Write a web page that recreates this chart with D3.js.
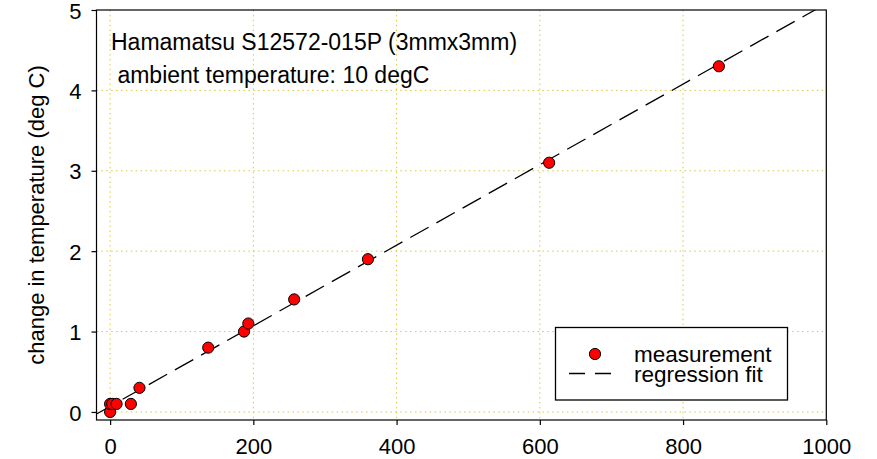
<!DOCTYPE html>
<html>
<head>
<meta charset="utf-8">
<script src="https://cdn.jsdelivr.net/npm/d3@7/dist/d3.min.js"></script>
<style>
  html, body { margin: 0; padding: 0; background: #fff; }
  svg { display: block; }
  text { font-family: "Liberation Sans", Arial, Helvetica, sans-serif; fill: #000; }
</style>
</head>
<body>
<svg id="chart" width="877" height="459"></svg>
<script>
// Measured power vs. temperature rise of the SiPM
const powerValues = [0, 0, 3, 9, 29, 41, 137, 187, 193, 257, 360, 613, 850];
const tempRise    = [0, 0.1, 0.1, 0.1, 0.1, 0.3, 0.8, 1.0, 1.1, 1.4, 1.9, 3.1, 4.3];

// Linear regression coefficients
const fitIntercept = 0.07;
const fitSlope = 0.00501;

const xTicks = [0, 200, 400, 600, 800, 1000];
const yTicks = [0, 1, 2, 3, 4, 5];
const xGrid = [0, 200, 400, 600, 800];
const yGrid = [0, 1, 2, 3, 4];

const titleLines = ["Hamamatsu S12572-015P (3mmx3mm)", " ambient temperature: 10 degC"];
const yAxisTitle = "change in temperature (deg C)";
const legendLabels = ["measurement", "regression fit"];

const svg = d3.select("#chart");
const plotLeft = 96.5, plotRight = 826.3, plotTop = 10, plotBottom = 420;
const fontSize = 22;

const x = d3.scaleLinear().domain([-19, 1000]).range([plotLeft, plotRight]);
const y = d3.scaleLinear().domain([-0.1, 5]).range([plotBottom, plotTop]);

svg.append("defs").append("clipPath").attr("id", "plotClip")
  .append("rect").attr("x", plotLeft).attr("y", plotTop)
  .attr("width", plotRight - plotLeft).attr("height", plotBottom - plotTop);

// dotted grid
const gridStyle = { stroke: "#d9c93a", width: 1, dash: "1.5,3.4" };
const grid = svg.append("g");
grid.selectAll(".gx").data(xGrid).join("line")
  .attr("x1", d => x(d)).attr("x2", d => x(d))
  .attr("y1", plotTop).attr("y2", plotBottom)
  .attr("stroke", gridStyle.stroke).attr("stroke-width", gridStyle.width)
  .attr("stroke-dasharray", gridStyle.dash);
grid.selectAll(".gy").data(yGrid).join("line")
  .attr("x1", plotLeft).attr("x2", plotRight)
  .attr("y1", d => y(d)).attr("y2", d => y(d))
  .attr("stroke", gridStyle.stroke).attr("stroke-width", gridStyle.width)
  .attr("stroke-dasharray", gridStyle.dash);

// regression line
const fitPts = x.domain().map(v => [v, fitIntercept + fitSlope * v]);
svg.append("path")
  .attr("clip-path", "url(#plotClip)")
  .attr("d", d3.line().x(d => x(d[0])).y(d => y(d[1]))(fitPts))
  .attr("fill", "none").attr("stroke", "#000").attr("stroke-width", 1.3)
  .attr("stroke-dasharray", "21,9");

// measurements
const pts = powerValues.map((v, i) => ({ p: v, t: tempRise[i] }));
svg.append("g").selectAll("circle").data(pts).join("circle")
  .attr("cx", d => x(d.p)).attr("cy", d => y(d.t)).attr("r", 5.6)
  .attr("fill", "#ff0000").attr("stroke", "#000").attr("stroke-width", 1);

// axes
const xAxis = d3.axisBottom(x).tickValues(xTicks).tickSize(5).tickPadding(13.5).tickFormat(d3.format("d"));
const gx = svg.append("g").attr("transform", `translate(0,${plotBottom})`).call(xAxis);
gx.select(".domain").remove();
gx.selectAll(".tick line").attr("stroke", "#000").attr("stroke-width", 1.2);
gx.selectAll(".tick text").attr("font-size", fontSize).attr("font-family", null).attr("dy", "0.71em");

const yAxis = d3.axisLeft(y).tickValues(yTicks).tickSize(5).tickPadding(10).tickFormat(d3.format("d"));
const gy = svg.append("g").attr("transform", `translate(${plotLeft},0)`).call(yAxis);
gy.select(".domain").remove();
gy.selectAll(".tick line").attr("stroke", "#000").attr("stroke-width", 1.2);
gy.selectAll(".tick text").attr("font-size", fontSize).attr("font-family", null).attr("dy", "0.37em");

// frame
svg.append("rect").attr("x", plotLeft).attr("y", plotTop)
  .attr("width", plotRight - plotLeft).attr("height", plotBottom - plotTop)
  .attr("fill", "none").attr("stroke", "#000").attr("stroke-width", 1.2);

// y-axis title
svg.append("text")
  .attr("transform", `translate(44,${(plotTop + plotBottom) / 2}) rotate(-90)`)
  .attr("text-anchor", "middle").attr("font-size", fontSize)
  .text(yAxisTitle);

// annotation
svg.append("g").selectAll("text").data(titleLines).join("text")
  .attr("x", 111).attr("y", (d, i) => 50 + i * 32.5)
  .attr("font-size", 23)
  .style("white-space", "pre")
  .text(d => d);

// legend
const lg = svg.append("g");
lg.append("rect").attr("x", 555.5).attr("y", 327.5).attr("width", 232).attr("height", 72.5)
  .attr("fill", "#fff").attr("stroke", "#000").attr("stroke-width", 1.3);
lg.append("circle").attr("cx", 595).attr("cy", 354).attr("r", 5.6)
  .attr("fill", "#ff0000").attr("stroke", "#000").attr("stroke-width", 1);
lg.append("line").attr("x1", 569).attr("x2", 613).attr("y1", 373.5).attr("y2", 373.5)
  .attr("stroke", "#000").attr("stroke-width", 1.3).attr("stroke-dasharray", "16,10");
lg.selectAll(".lt").data(legendLabels).join("text")
  .attr("x", 634).attr("y", (d, i) => 361.5 + i * 20)
  .attr("font-size", 22.5).text(d => d);
</script>
</body>
</html>
